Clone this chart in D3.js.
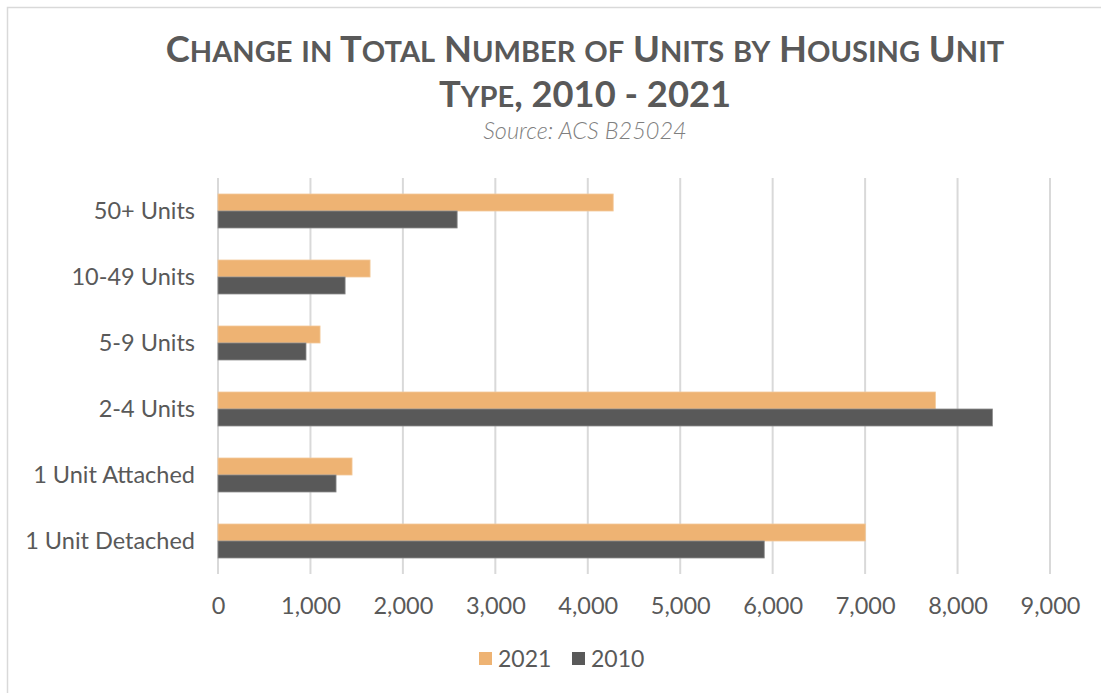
<!DOCTYPE html>
<html>
<head>
<meta charset="utf-8">
<script src="https://cdn.jsdelivr.net/npm/d3@7"></script>
<style>
  html, body { margin: 0; padding: 0; background: #fff; }
  svg { display: block; font-family: Lato, "Open Sans", sans-serif; }
</style>
</head>
<body>
<svg id="chart" width="1101" height="693"></svg>
<script>
// Housing unit types, listed top to bottom
const categories = ["50+ Units", "10-49 Units", "5-9 Units", "2-4 Units", "1 Unit Attached", "1 Unit Detached"];
const series = ["2021", "2010"];
const values2021 = [4275, 1645, 1104, 7760, 1450, 7002];
const values2010 = [2587, 1375, 952, 8377, 1277, 5909];
const xTicks = [0, 1000, 2000, 3000, 4000, 5000, 6000, 7000, 8000, 9000];
const titleLines = ["Change in Total Number of Units by Housing Unit", "Type, 2010 - 2021"];
const subtitle = "Source: ACS B25024";
const colors = { "2021": "#EEB373", "2010": "#595959" };
const strokes = { "2021": "#F3C99A", "2010": "#8C8C8C" };

const svg = d3.select("#chart");
const W = 1101, H = 693;
const plot = { left: 218, right: 1050, top: 178, bottom: 574 };

// Chart frame
svg.append("rect")
  .attr("x", 7.5).attr("y", 7.5)
  .attr("width", W + 20).attr("height", H + 20)
  .attr("fill", "#fff").attr("stroke", "#D9D9D9").attr("stroke-width", 1.5);

// Title in small caps: lowercase letters become smaller capitals
const capSize = 36.3, smallSize = capSize * 0.8;
function smallCaps(textSel, str) {
  const runs = [];
  for (const ch of str) {
    const small = ch !== ch.toUpperCase();
    const last = runs[runs.length - 1];
    if (last && last.small === small) last.text += ch;
    else runs.push({ small, text: ch });
  }
  runs.forEach(r => {
    textSel.append("tspan")
      .style("font-size", (r.small ? smallSize : capSize) + "px")
      .text(r.small ? r.text.toUpperCase() : r.text);
  });
}
titleLines.forEach((line, i) => {
  const t = svg.append("text")
    .attr("x", 585).attr("y", 62 + i * 45)
    .attr("text-anchor", "middle")
    .attr("fill", "#595959")
    .style("font-weight", "700");
  smallCaps(t, line);
});

svg.append("text")
  .attr("x", 585).attr("y", 139)
  .attr("text-anchor", "middle")
  .attr("fill", "#7F7F7F")
  .style("font-size", "23.5px")
  .style("font-style", "italic")
  .style("font-weight", "300")
  .text(subtitle);

// Scales
const x = d3.scaleLinear().domain([0, 9000]).range([plot.left, plot.right]);
const y = d3.scaleBand().domain(categories).range([plot.top, plot.bottom]).paddingInner(0.485).paddingOuter(0.2425);
const ySub = d3.scaleBand().domain(series).range([0, y.bandwidth()]);

// Vertical gridlines
svg.append("g")
  .selectAll("line")
  .data(xTicks)
  .join("line")
  .attr("x1", d => x(d)).attr("x2", d => x(d))
  .attr("y1", plot.top).attr("y2", plot.bottom)
  .attr("stroke", "#D9D9D9").attr("stroke-width", 2);

// X axis labels
const xAxis = d3.axisBottom(x)
  .tickValues(xTicks)
  .tickFormat(d3.format(","))
  .tickSize(0)
  .tickPadding(0);
const gx = svg.append("g")
  .attr("transform", `translate(0, ${plot.bottom + 23})`)
  .call(xAxis);
gx.select(".domain").remove();
gx.selectAll("text")
  .attr("fill", "#595959")
  .style("font-size", "23.5px")
  .style("font-family", "Lato, sans-serif");

// Y axis labels
const yAxis = d3.axisLeft(y).tickSize(0).tickPadding(23);
const gy = svg.append("g")
  .attr("transform", `translate(${plot.left}, 0)`)
  .call(yAxis);
gy.select(".domain").remove();
gy.selectAll("text")
  .attr("fill", "#595959")
  .style("font-size", "23.5px")
  .style("font-family", "Lato, sans-serif");

// Bars
const rows = categories.map((c, i) => ({
  category: c,
  bars: [
    { key: "2021", value: values2021[i] },
    { key: "2010", value: values2010[i] }
  ]
}));

svg.append("g")
  .selectAll("g")
  .data(rows)
  .join("g")
  .attr("transform", d => `translate(0, ${y(d.category)})`)
  .selectAll("rect")
  .data(d => d.bars)
  .join("rect")
  .attr("x", x(0))
  .attr("y", d => ySub(d.key))
  .attr("width", d => x(d.value) - x(0))
  .attr("height", ySub.bandwidth())
  .attr("fill", d => colors[d.key])
  .attr("stroke", d => strokes[d.key])
  .attr("stroke-width", 0.8);

// Legend
const legend = svg.append("g").attr("transform", "translate(479, 652)");
const legendX = { "2021": 0, "2010": 93 };
series.forEach(s => {
  const g = legend.append("g").attr("transform", `translate(${legendX[s]}, 0)`);
  g.append("rect").attr("width", 13).attr("height", 13).attr("fill", colors[s]);
  g.append("text")
    .attr("x", 19).attr("y", 14.5)
    .attr("fill", "#595959")
    .style("font-size", "23px")
    .text(s);
});
</script>
</body>
</html>
